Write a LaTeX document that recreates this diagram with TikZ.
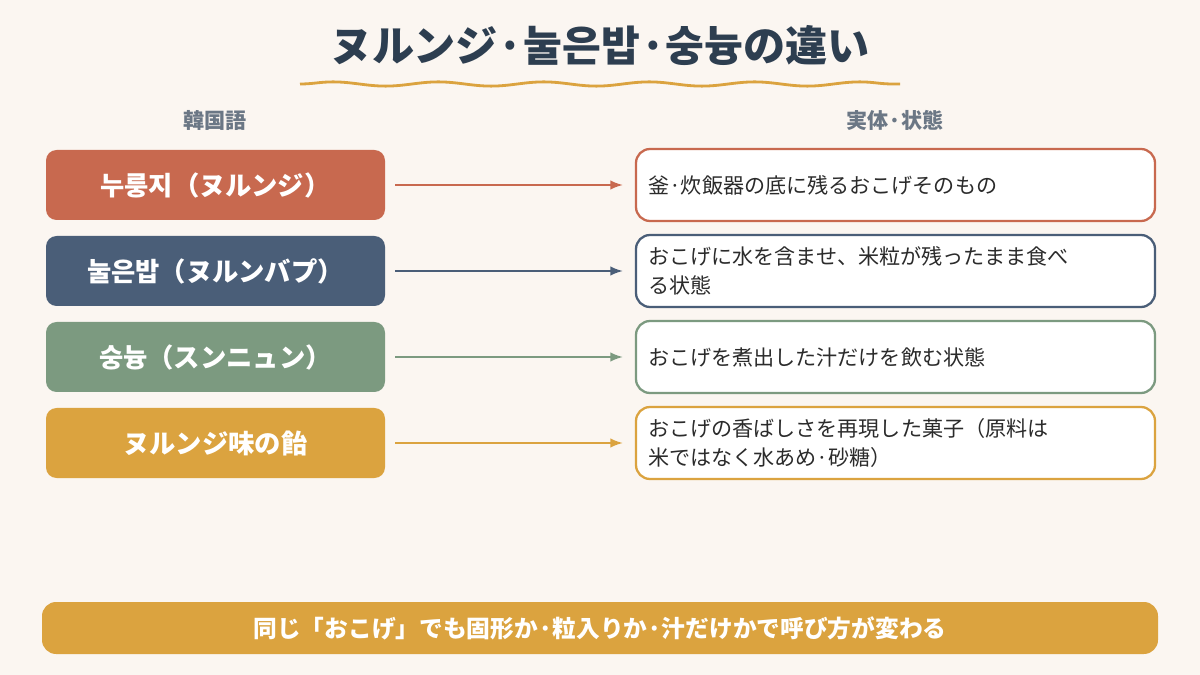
\documentclass[tikz,border=0pt]{standalone}
\usepackage{fontspec}
\setmainfont{Noto Sans CJK JP}
\usetikzlibrary{calc,decorations.pathmorphing,arrows.meta,positioning}
\definecolor{bgcol}{HTML}{FBF6F1}
\definecolor{navy}{HTML}{2D3E50}
\definecolor{terra}{HTML}{C8694F}
\definecolor{slate}{HTML}{4A5E78}
\definecolor{sage}{HTML}{7C9A80}
\definecolor{gold}{HTML}{DBA33F}
\definecolor{txtgray}{HTML}{6B7785}
\definecolor{bodytxt}{HTML}{2B2B2B}
\begin{document}
\begin{tikzpicture}[>=Latex, x=0.02cm, y=-0.02cm]
% Define styles for blocks, descriptions and arrows
\tikzstyle{term} = [rectangle, rounded corners=6pt, minimum height=70*0.02cm, minimum width=339*0.02cm, text=white, font=\fontsize{15}{17}\selectfont\bfseries]
\tikzstyle{desc} = [rectangle, rounded corners=8pt, fill=white, line width=1.3pt, minimum height=72*0.02cm, minimum width=519*0.02cm, text width=495*0.02cm, align=left, text=bodytxt, font=\fontsize{12}{16.5}\selectfont]
\tikzstyle{head} = [text=txtgray, font=\fontsize{12}{14}\selectfont\bfseries]
\tikzstyle{link} = [->, line width=0.9pt]

% Background and bounding box
\fill[bgcol] (0,0) rectangle (1200,675);
\useasboundingbox (0,0) rectangle (1200,675);

% Title
\node[text=navy, font=\fontsize{24}{28}\selectfont\bfseries] (title) at (600,46) {ヌルンジ·눌은밥·숭늉の違い};
\draw[gold, line width=1.6pt, decorate, decoration={snake, amplitude=1.2pt, segment length=60pt}] (300,84) -- (900,84);

% Column headers
\node[head] (hleft) at (215,120) {韓国語};
\node[head] (hright) at (895,120) {実体·状態};

% Terms on the left
\node[term, fill=terra] (nurungji) at (215.5,185) {누룽지（ヌルンジ）};
\node[term, fill=slate] (nureunbap) at (215.5,271) {눌은밥（ヌルンバプ）};
\node[term, fill=sage] (sungnyung) at (215.5,357) {숭늉（スンニュン）};
\node[term, fill=gold] (candy) at (215.5,443) {ヌルンジ味の飴};

% Descriptions on the right
\node[desc, draw=terra] (d1) at (895.5,185) {釜·炊飯器の底に残るおこげそのもの};
\node[desc, draw=slate] (d2) at (895.5,271) {おこげに水を含ませ、米粒が残ったまま食べ\\る状態};
\node[desc, draw=sage] (d3) at (895.5,357) {おこげを煮出した汁だけを飲む状態};
\node[desc, draw=gold] (d4) at (895.5,443) {おこげの香ばしさを再現した菓子（原料は\\米ではなく水あめ·砂糖）};

% Arrows
\draw[link, terra] ($(nurungji.east)+(10,0)$) -- ($(d1.west)+(-12,0)$);
\draw[link, slate] ($(nureunbap.east)+(10,0)$) -- ($(d2.west)+(-12,0)$);
\draw[link, sage] ($(sungnyung.east)+(10,0)$) -- ($(d3.west)+(-12,0)$);
\draw[link, gold] ($(candy.east)+(10,0)$) -- ($(d4.west)+(-12,0)$);

% Summary bar
\node[rectangle, rounded corners=8pt, fill=gold, minimum width=1116*0.02cm, minimum height=52*0.02cm, text=white, font=\fontsize{13.5}{16}\selectfont\bfseries] (summary) at (600,628) {同じ「おこげ」でも固形か·粒入りか·汁だけかで呼び方が変わる};
\end{tikzpicture}
\end{document}
